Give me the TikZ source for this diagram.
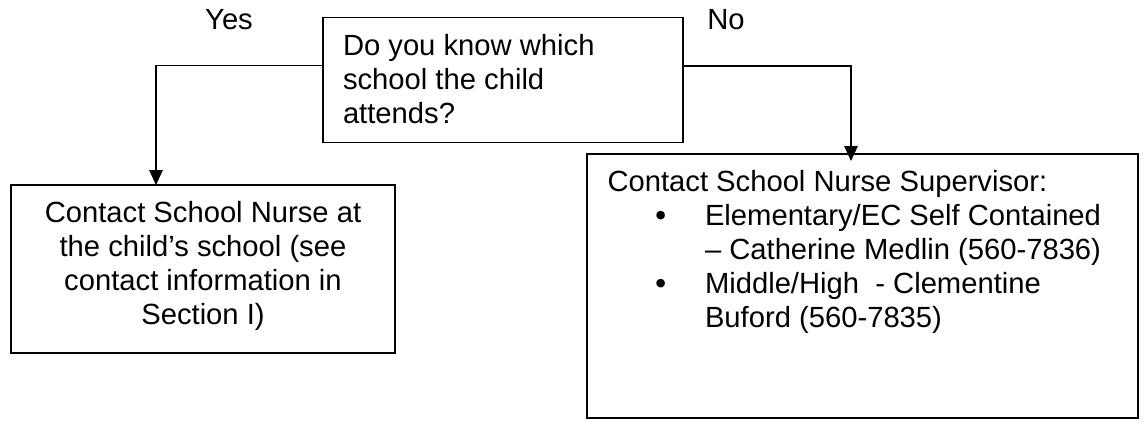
\documentclass[tikz,border=0pt]{standalone}
\usepackage{fontspec}
\setmainfont{Liberation Sans}
\newfontfamily\bulfont{DejaVu Sans}
\usetikzlibrary{arrows.meta}
\tikzset{
  boxnode/.style={draw=black, line width=1.6pt, inner sep=0pt, outer sep=0pt, anchor=north west},
  lbl/.style={inner sep=0pt, anchor=base},
  conn/.style={draw=black, line width=1.4pt, -{Triangle[length=15pt,width=13.5pt]}}
}
\newcommand{\bul}{\makebox[0pt][c]{\raisebox{-1pt}{\bulfont •}}}
\begin{document}
\begin{tikzpicture}[x=1pt,y=-1pt,font=\fontsize{29.2pt}{34pt}\selectfont]
\useasboundingbox (0,0) rectangle (1144,423);
% question box
\node[boxnode] (q) at (323,17.5) {\parbox[c][125pt][t]{360pt}{\raggedright\rule{0pt}{37.5pt}\hspace*{20pt}Do you know which\\\hspace*{20pt}school the child\\\hspace*{20pt}attends?}};
% yes box
\node[boxnode] (yes) at (11,185) {\parbox[c][168pt][t]{384pt}{\centering\rule{0pt}{37pt}Contact School Nurse at\\the child’s school (see\\contact information in\\Section I)}};
% no box
\node[boxnode] (no) at (587,154) {\parbox[c][264pt][t]{551pt}{\raggedright\rule{0pt}{37.7pt}\hspace*{20.5pt}Contact School Nurse Supervisor:\\
\hspace*{74pt}\bul\hspace*{44pt}Elementary/EC Self Contained\\
\hspace*{118pt}– Catherine Medlin (560-7836)\\
\hspace*{74pt}\bul\hspace*{44pt}Middle/High\ \ - Clementine\\
\hspace*{118pt}Buford (560-7835)}};
% labels
\node[lbl] (ylab) at (229,30) {Yes};
\node[lbl] (nlab) at (726,30) {No};
% connectors
\draw[conn] ([yshift=-48.2pt]q.north west) -| ([xshift=145pt]yes.north west);
\draw[conn] ([yshift=-48.5pt]q.north east) -| ([xshift=264pt,yshift=-7pt]no.north west);
\end{tikzpicture}
\end{document}
